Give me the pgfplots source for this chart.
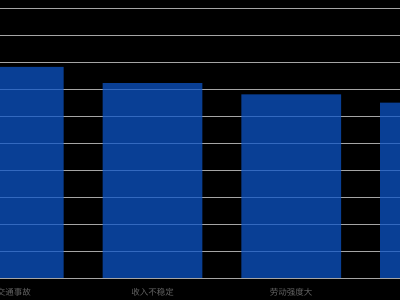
\documentclass[border=0pt]{standalone}
\usepackage{pgfplots}
\pgfplotsset{compat=1.18}
\usepackage{fontspec}
\newfontfamily\cjk{Noto Sans CJK SC}
\definecolor{barblue}{RGB}{13,85,200}
\definecolor{gridgray}{RGB}{165,165,165}
\definecolor{labelgray}{RGB}{100,100,100}
\begin{document}
\begin{tikzpicture}[x=1pt,y=1pt]
\fill[black] (0,0) rectangle (400,300);
\useasboundingbox (0,0) rectangle (400,300);
\clip (0,0) rectangle (400,300);
\begin{axis}[
  at={(0pt,22pt)}, anchor=south west,
  scale only axis,
  width=400pt, height=278pt,
  xmin=-0.0995, xmax=2.784,
  ymin=0, ymax=51.5,
  axis x line*=bottom,
  axis y line*=left,
  y axis line style={draw=none},
  yticklabels={},
  x axis line style={draw=gridgray, line width=0.8pt, -},
  ybar, bar width=0.72,
  xtick={0,1,2,3},
  xticklabels={交通事故,收入不稳定,劳动强度大,{}},
  xticklabel style={font=\cjk\fontsize{8.5}{10}\selectfont, text=labelgray, yshift=-7pt},
  major tick length=0,
  ytick={0,5,...,50},
  ymajorgrids,
  grid style={draw=gridgray, line width=0.8pt},
]
\addplot[fill=barblue, fill opacity=0.75, draw=none] coordinates {(0,39.1) (1,36.1) (2,34.0) (3,32.5)};
\end{axis}
\end{tikzpicture}
\end{document}
